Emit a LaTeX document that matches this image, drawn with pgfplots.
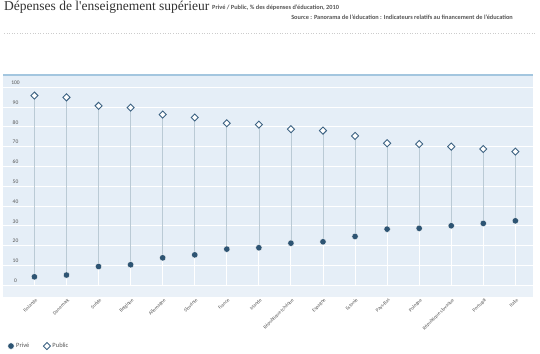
\documentclass[border=0pt]{standalone}
\usepackage{fontspec}
\setmainfont{Carlito}
\newfontfamily\titlefont{Liberation Serif}
\usepackage{pgfplots}
\pgfplotsset{compat=1.18}
\definecolor{bgc}{HTML}{E5EEF7}
\definecolor{bgl}{HTML}{EAF1F8}
\definecolor{stem}{HTML}{BACAD5}
\definecolor{dotc}{HTML}{2D5473}
\definecolor{diac}{HTML}{3C6282}
\definecolor{topl}{HTML}{A3C6DF}
\definecolor{txt}{HTML}{555555}
\pgfplotstableread{
x prive public gap
0 4.2 95.8 91.6
1 5.1 94.9 89.8
2 9.4 90.6 81.2
3 10.3 89.7 79.4
4 13.8 86.2 72.4
5 15.3 84.7 69.4
6 18.2 81.8 63.6
7 18.9 81.1 62.2
8 21.2 78.8 57.6
9 21.9 78.1 56.2
10 24.6 75.4 50.8
11 28.3 71.7 43.4
12 28.7 71.3 42.6
13 30.0 70.0 40.0
14 31.2 68.8 37.6
15 32.5 67.5 35.0
}\datatable
\begin{document}
\begin{tikzpicture}[x=1pt,y=1pt]
\path[use as bounding box] (0,0) rectangle (540,353);
\node[anchor=base west, inner sep=0, font=\titlefont\fontsize{13.5}{14}\selectfont, text=black!80] at (4,342) {Dépenses de l'enseignement supérieur};
\node[anchor=base west, inner sep=0, font=\fontsize{6.3}{7}\selectfont\bfseries, text=txt] at (212,343) {Privé / Public, \% des dépenses d'éducation, 2010};
\node[anchor=base east, inner sep=0, font=\fontsize{6.3}{7}\selectfont\bfseries, text=txt] at (513,333) {Source : Panorama de l'éducation : Indicateurs relatifs au financement de l'éducation};
\draw[black!20, dotted, line width=0.6pt] (4,320) -- (536,320);
\begin{axis}[
  at={(3pt,278pt)}, anchor=north west,
  scale only axis, width=530pt, height=222pt,
  xmin=-0.98, xmax=15.55, ymin=-6, ymax=106.2,
  axis background/.style={fill=bgc},
  axis line style={draw=none},
  major tick length=0pt,
  ytick={0,10,...,100},
  ymajorgrids, grid style={white, line width=0.9pt},
  xtick=data,
  xticklabels={Finlande,Danemark,Suède,Belgique,Allemagne,Slovénie,France,Irlande,République tchèque,Espagne,Estonie,Pays-Bas,Pologne,République slovaque,Portugal,Italie},
  xticklabel style={rotate=45, anchor=north east, font=\fontsize{5}{6}\selectfont, text=txt, inner sep=1pt, xshift=1pt},
  yticklabel style={anchor=center, xshift=12.5pt, yshift=4.5pt, font=\fontsize{5.5}{6}\selectfont, text=txt},
  /pgf/number format/assume math mode=true,
  legend style={draw=none, fill=none, at={(0.003,-0.221)}, anchor=west, legend columns=2, font=\fontsize{6.5}{7}\selectfont, text=txt, /tikz/every even column/.append style={column sep=12pt}},
  legend cell align=left,
  clip=false,
]
\fill[bgl] (axis cs:-0.98,-6) rectangle (axis cs:15.55,-0.3);
\addplot[forget plot, only marks, mark=none, error bars/.cd, y dir=minus, y explicit, error mark=none, error bar style={stem, line width=0.7pt}] table[x=x, y=public, y error minus=gap] {\datatable};
\addplot[forget plot, only marks, mark=none, error bars/.cd, y dir=minus, y explicit, error mark=none, error bar style={white, line width=0.9pt}] table[x=x, y=prive, y error minus=prive] {\datatable};
\draw[topl, line width=1.5pt] (rel axis cs:0,1) -- (rel axis cs:1,1);
\addplot[only marks, mark=*, mark size=3.2pt, mark options={fill=dotc, draw=white, line width=0.3pt}] table[x=x, y=prive] {\datatable};
\addlegendentry{Privé}
\addplot[only marks, mark=square*, mark size=2.5pt, mark options={rotate=45, fill=white, draw=diac, line width=0.9pt}] table[x=x, y=public] {\datatable};
\addlegendentry{Public}
\end{axis}
\end{tikzpicture}
\end{document}
